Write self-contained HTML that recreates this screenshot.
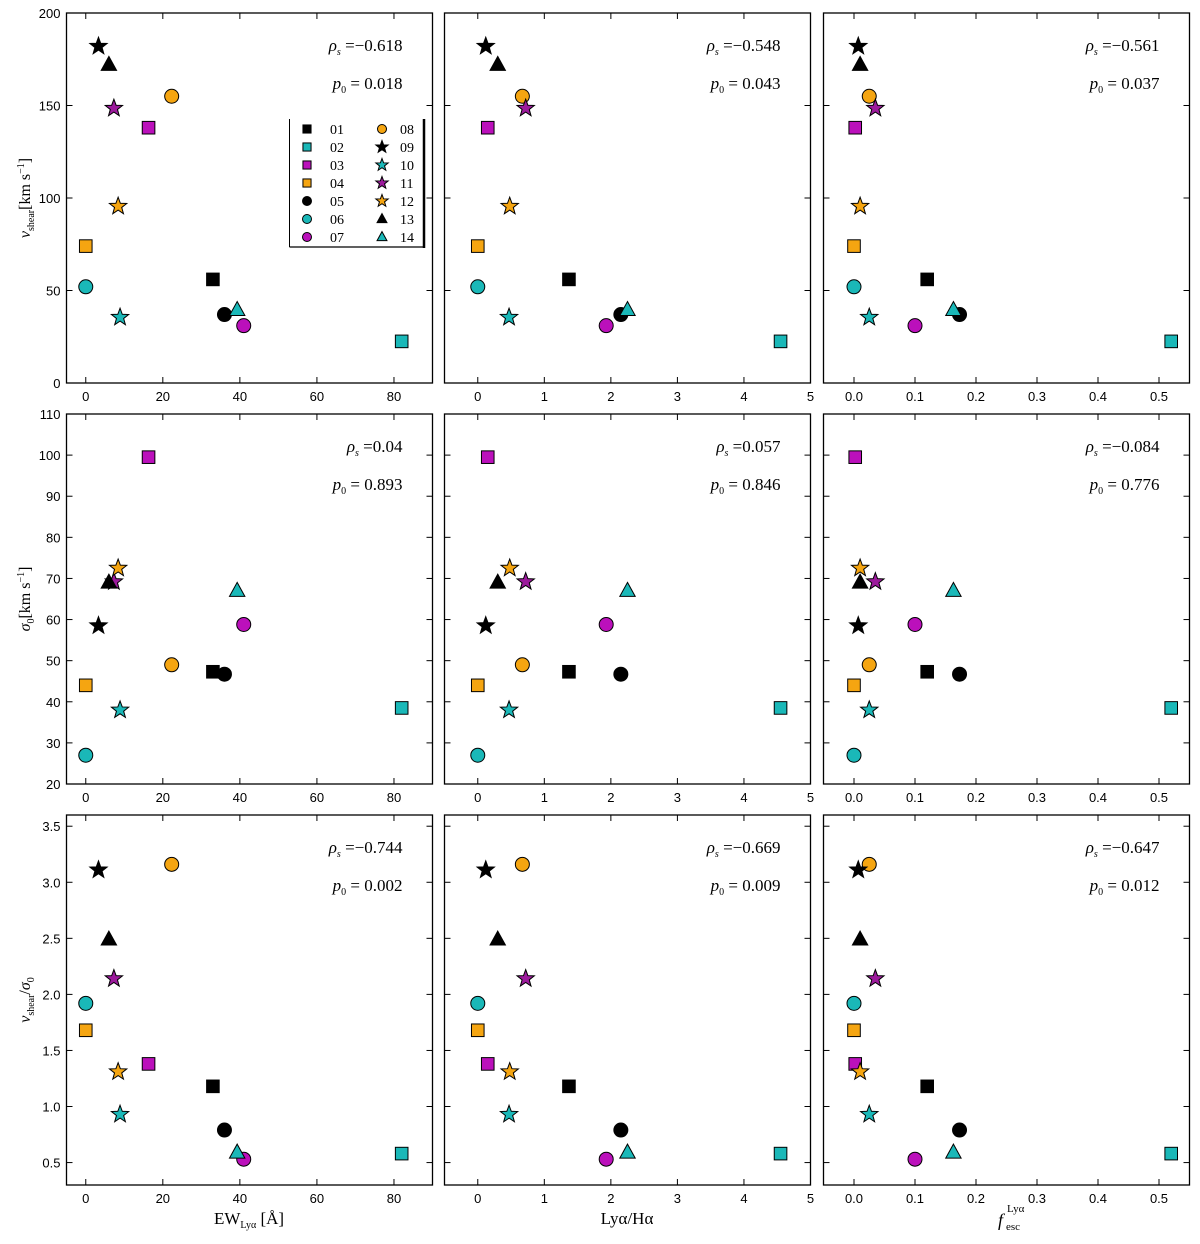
<!DOCTYPE html>
<html><head><meta charset="utf-8"><style>
body{margin:0;background:#fff}
svg{display:block}
text{font-family:"Liberation Sans",sans-serif}
.m{font-family:"Liberation Serif",serif}
</style></head><body>
<svg id="fig" width="1200" height="1244" viewBox="0 0 1200 1244" xmlns="http://www.w3.org/2000/svg"></svg>
<script>
const ids=["01","02","03","04","05","06","07","08","09","10","11","12","13","14"];
const colors=["#000","#1ab8b8","#bb10bb","#f5a511","#000","#1ab8b8","#bb10bb","#f5a511","#000","#1ab8b8","#9c1a9c","#f5a511","#000","#1ab8b8"];
const shapes=["s","s","s","s","c","c","c","c","*","*","*","*","^","^"];
const ewLya=[33,82,16.3,0,36,0,41,22.3,3.3,8.9,7.3,8.4,6,39.3];
const lyaHa=[1.37,4.55,0.15,0.0,2.15,0.0,1.93,0.67,0.12,0.47,0.72,0.48,0.3,2.25];
const fesc=[0.12,0.52,0.002,0.0,0.173,0.0,0.10,0.025,0.007,0.025,0.035,0.01,0.01,0.163];
const vshear=[56,22.5,138,74,37,52,31,155,182,35.5,148.5,95.5,172,39.5];
const sigma0=[47.3,38.5,99.5,44,46.7,27,58.8,49,58.5,38,69.2,72.5,69,67];
const ratio=[1.18,0.58,1.38,1.68,0.79,1.92,0.53,3.16,3.11,0.93,2.14,1.31,2.49,0.59];
const rhoVals=[["−0.618","−0.548","−0.561"],["0.04","0.057","−0.084"],["−0.744","−0.669","−0.647"]];
const pVals=[["0.018","0.043","0.037"],["0.893","0.846","0.776"],["0.002","0.009","0.012"]];
const xTicks=[[0,20,40,60,80],[0,1,2,3,4,5],[0,0.1,0.2,0.3,0.4,0.5]];
const xTickLabels=[["0","20","40","60","80"],["0","1","2","3","4","5"],["0.0","0.1","0.2","0.3","0.4","0.5"]];
const yTicks=[[0,50,100,150,200],[20,30,40,50,60,70,80,90,100,110],[0.5,1.0,1.5,2.0,2.5,3.0,3.5]];
const yTickLabels=[["0","50","100","150","200"],["20","30","40","50","60","70","80","90","100","110"],["0.5","1.0","1.5","2.0","2.5","3.0","3.5"]];
const xData=[ewLya,lyaHa,fesc];
const yData=[vshear,sigma0,ratio];
const xDom=[[-5,90],[-0.5,5],[-0.05,0.55]];
const yDom=[[0,200],[20,110],[0.3,3.6]];
const colX=[66.5,444.5,823.5], rowY=[13,414,815], W=366, H=370;
const NS="http://www.w3.org/2000/svg";
const svg=document.getElementById('fig');
function el(t,a,p){const e=document.createElementNS(NS,t);for(const k in a)e.setAttribute(k,a[k]);(p||svg).appendChild(e);return e;}
function marker(g,shape,x,y,col,s){
  let e;
  if(shape==="s") e=el('rect',{x:x-s*0.45,y:y-s*0.45,width:s*0.9,height:s*0.9},g);
  else if(shape==="c") e=el('circle',{cx:x,cy:y,r:s*0.5},g);
  else if(shape==="^") e=el('polygon',{points:`${x},${y-s*0.6} ${x+s*0.55},${y+s*0.4} ${x-s*0.55},${y+s*0.4}`},g);
  else {let pts=[];for(let i=0;i<10;i++){const r=i%2?s*0.27:s*0.65,a=-Math.PI/2+i*Math.PI/5;pts.push((x+r*Math.cos(a)).toFixed(2)+","+(y+r*Math.sin(a)).toFixed(2));}e=el('polygon',{points:pts.join(" ")},g);}
  e.setAttribute('fill',col);e.setAttribute('stroke','#000');e.setAttribute('stroke-width','1');
  return e;
}
for(let r=0;r<3;r++)for(let c=0;c<3;c++){
  const x0=colX[c],y0=rowY[r];
  const g=el('g',{});
  
  
  const sx=v=>x0+(v-xDom[c][0])/(xDom[c][1]-xDom[c][0])*W;
  const sy=v=>y0+H-(v-yDom[r][0])/(yDom[r][1]-yDom[r][0])*H;
  xTicks[c].forEach((t,i)=>{const X=sx(t);
    el('line',{x1:X,y1:y0+H,x2:X,y2:y0+H-6,stroke:'#000'},g);
    el('line',{x1:X,y1:y0,x2:X,y2:y0+6,stroke:'#000'},g);
    const tl=el('text',{x:X,y:y0+H+18,'font-size':13,'text-anchor':'middle'},g);tl.textContent=xTickLabels[c][i];
    
    });
  yTicks[r].forEach((t,i)=>{const Y=sy(t);
    el('line',{x1:x0,y1:Y,x2:x0+6,y2:Y,stroke:'#000'},g);
    el('line',{x1:x0+W,y1:Y,x2:x0+W-6,y2:Y,stroke:'#000'},g);
    if(c===0){const tl=el('text',{x:x0-6,y:Y+5,'font-size':13,'text-anchor':'end'},g);tl.textContent=yTickLabels[r][i];
    
    }});
  el('rect',{x:x0,y:y0,width:W,height:H,fill:'none',stroke:'#000','stroke-width':1.3},g);
  for(let i=0;i<ids.length;i++){
    const sz=shapes[i]==="*"?14:shapes[i]==="^"?14:shapes[i]==="s"?14:14;
    const m=marker(g,shapes[i],sx(xData[c][i]),sy(yData[r][i]),colors[i],sz);
    
    
  }
  const t1=el('text',{x:x0+W-30,y:y0+38,'font-size':17,'text-anchor':'end',class:'m'},g);
  t1.innerHTML='<tspan font-style="italic">ρ</tspan><tspan font-size="10" dy="4" font-style="italic">s</tspan><tspan dy="-4"> =</tspan>'+rhoVals[r][c];
  
  
  const t2=el('text',{x:x0+W-30,y:y0+76,'font-size':17,'text-anchor':'end',class:'m'},g);
  t2.innerHTML='<tspan font-style="italic">p</tspan><tspan font-size="10" dy="4">0</tspan><tspan dy="-4"> =  </tspan>'+pVals[r][c];
  
  
}
// legend
const lg=el('g',{});


el('rect',{x:289.5,y:119,width:134.5,height:128,fill:'#fff',stroke:'none'},lg);
el('line',{x1:289.5,y1:119,x2:289.5,y2:247,stroke:'#000','stroke-width':1},lg);
el('line',{x1:289.5,y1:247,x2:424,y2:247,stroke:'#000','stroke-width':1.3},lg);
el('line',{x1:424,y1:119,x2:424,y2:248,stroke:'#000','stroke-width':2.5},lg);
for(let i=0;i<14;i++){
  const col=i<7?0:1,row=i%7;
  const mx=col?382:307, my=129+row*18;
  const m=marker(lg,shapes[i],mx,my,colors[i],shapes[i]==="*"?10:9);
  
  
  const t=el('text',{x:col?400:330,y:my+5,'font-size':14,class:'m'},lg);t.textContent=ids[i];
  
  
}
// axis titles
function ytitle(cy,html,name){const t=el('text',{transform:`translate(30,${cy}) rotate(-90)`,'font-size':16,'text-anchor':'middle',class:'m'});t.innerHTML=html;
  
  }
ytitle(198,'<tspan font-style="italic">v</tspan><tspan font-size="10" dy="4">shear</tspan><tspan dy="-4">[km s</tspan><tspan font-size="10" dy="-6">−1</tspan><tspan dy="6">]</tspan>','y-axis-title-vshear');
ytitle(599,'<tspan font-style="italic">σ</tspan><tspan font-size="10" dy="4">0</tspan><tspan dy="-4">[km s</tspan><tspan font-size="10" dy="-6">−1</tspan><tspan dy="6">]</tspan>','y-axis-title-sigma0');
ytitle(1000,'<tspan font-style="italic">v</tspan><tspan font-size="10" dy="4">shear</tspan><tspan dy="-4">/</tspan><tspan font-style="italic">σ</tspan><tspan font-size="10" dy="4">0</tspan>','y-axis-title-ratio');
function xtitle(cx,html,name){const t=el('text',{x:cx,y:1224,'font-size':17,'text-anchor':'middle',class:'m'});t.innerHTML=html;
  
  return t;}
xtitle(249,'EW<tspan font-size="10" dy="4">Lyα</tspan><tspan dy="-4"> [Å]</tspan>','x-axis-title-ew');
xtitle(627,'Lyα/Hα','x-axis-title-lya-ha');
const ft=el('g',{});


const f1=el('text',{x:998,y:1226,'font-size':18,'font-style':'italic',class:'m'},ft);f1.textContent='f';
const f2=el('text',{x:1006,y:1230,'font-size':11,class:'m'},ft);f2.textContent='esc';
const f3=el('text',{x:1007,y:1212,'font-size':11,class:'m'},ft);f3.textContent='Lyα';
</script>
</body></html>
